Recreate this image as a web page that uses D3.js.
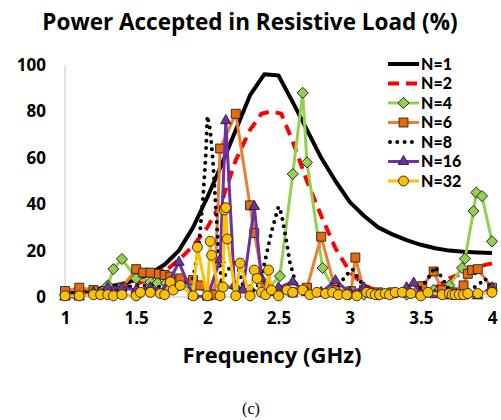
<!DOCTYPE html>
<html>
<head>
<meta charset="utf-8">
<script src="https://cdn.jsdelivr.net/npm/d3@7"></script>
<style>
    body { margin: 0; background: #fff; }
    text { font-family: "Open Sans", Lato, sans-serif; font-weight: bold; fill: #000; }
</style>
</head>
<body>
<div id="chart"></div>
<script>
// frequency (GHz), power accepted (%)
var n1 = [[1.0,1.5],[1.1,2],[1.2,3],[1.3,4.5],[1.4,5.5],[1.5,7.5],[1.6,10],[1.7,14],[1.8,20],[1.9,30],[2.0,43],[2.1,57],[2.2,72],[2.3,87],[2.4,96],[2.5,95.5],[2.6,84],[2.7,72],[2.8,60],[2.9,50],[3.0,41],[3.1,35],[3.2,30],[3.3,27],[3.4,24.5],[3.5,22.5],[3.6,21],[3.7,20],[3.8,19.5],[3.9,19.2],[4.0,19]];
var n2 = [[1.0,1],[1.1,1.5],[1.2,2],[1.3,3],[1.4,4],[1.5,5.5],[1.6,8],[1.7,11],[1.8,16],[1.9,22],[2.0,30],[2.1,41],[2.2,59],[2.3,72],[2.38,79],[2.45,80],[2.52,79],[2.6,67],[2.7,50],[2.8,35],[2.9,21],[3.0,11],[3.1,5],[3.2,2.5],[3.3,1.5],[3.4,1.5],[3.5,2],[3.6,4],[3.7,8],[3.8,10.5],[3.9,13],[4.0,14.5]];
var n4 = [[1.0,1],[1.1,1],[1.2,1.5],[1.3,5],[1.34,12],[1.4,16.4],[1.5,8],[1.6,6.5],[1.65,6],[1.71,6],[1.8,5],[1.9,4],[2.0,3],[2.1,5],[2.2,4],[2.3,3],[2.4,2],[2.51,9],[2.6,53],[2.67,88],[2.7,58],[2.81,12.5],[2.9,2],[3.0,1],[3.1,1],[3.2,1],[3.3,1.5],[3.4,1],[3.5,1],[3.59,3],[3.7,5],[3.79,12.5],[3.81,16.5],[3.87,37],[3.89,45],[3.93,43.5],[4.0,24]];
var n6 = [[1.0,2.6],[1.1,4],[1.2,3],[1.3,2],[1.4,4],[1.5,12],[1.55,10.5],[1.6,10.5],[1.66,10],[1.7,9.5],[1.74,8.8],[1.81,8],[1.9,7.3],[1.95,5],[2.05,1],[2.09,64],[2.2,79],[2.3,39.5],[2.33,27.6],[2.4,4],[2.5,2],[2.6,2],[2.7,4],[2.8,26],[2.9,3],[3.01,2.5],[3.04,17],[3.1,3],[3.2,2],[3.3,2],[3.4,2],[3.51,4.7],[3.59,11],[3.65,3],[3.72,2],[3.8,5],[3.83,10],[3.86,11.6],[3.9,12],[4.0,4]];
var n8 = [[1.0,1],[1.1,1.5],[1.2,2],[1.3,3],[1.4,4],[1.5,5],[1.6,5],[1.7,4],[1.8,4],[1.9,8],[1.94,22],[1.97,43],[1.99,62],[2.0,78],[2.02,72],[2.04,58],[2.06,38],[2.08,18],[2.1,7],[2.15,12],[2.2,16],[2.25,5],[2.3,2],[2.35,4],[2.4,14],[2.45,28],[2.5,39],[2.52,36],[2.55,26],[2.58,15],[2.62,6],[2.7,1],[2.8,1],[2.9,3],[2.97,9],[3.02,12],[3.07,7],[3.12,3],[3.2,1],[3.3,1],[3.4,1],[3.5,4],[3.55,8],[3.6,13],[3.64,9],[3.7,3],[3.8,2],[3.9,5],[3.95,8],[4.0,4]];
var n16 = [[1.0,0],[1.1,0],[1.2,2],[1.3,4],[1.4,4],[1.5,3],[1.6,4],[1.7,3],[1.8,15],[1.9,0.5],[2.0,0],[2.09,16],[2.13,76],[2.19,5],[2.25,3],[2.33,39],[2.38,8],[2.45,2],[2.5,4],[2.6,6.5],[2.7,2],[2.8,2],[2.9,7],[3.0,2],[3.1,4],[3.2,1],[3.3,1],[3.4,4],[3.45,6],[3.5,1],[3.6,1],[3.7,0.5],[3.8,0.5],[3.9,0.5],[4.0,4]];
var n32 = [[1.0,0.5],[1.1,0.5],[1.2,1],[1.25,1],[1.3,1],[1.34,0.5],[1.4,1],[1.5,0.5],[1.53,2],[1.6,2],[1.67,1.5],[1.7,1],[1.74,6.5],[1.76,3],[1.81,5],[1.9,0.5],[1.93,21.5],[2.0,0.5],[2.02,24],[2.03,18],[2.09,0.5],[2.11,4.3],[2.12,37.5],[2.13,38.5],[2.14,25],[2.2,0.5],[2.23,14.6],[2.3,0.5],[2.33,11.6],[2.35,8],[2.38,2],[2.41,1],[2.43,11.6],[2.45,3],[2.5,0.5],[2.56,3],[2.6,2],[2.67,3],[2.72,1],[2.77,2],[2.83,1.5],[2.88,2],[2.92,1],[2.98,1],[3.05,0.5],[3.12,2],[3.15,1.5],[3.18,1],[3.21,1],[3.25,1.5],[3.28,1],[3.32,2],[3.37,2],[3.43,1.5],[3.5,0.5],[3.55,2],[3.65,1],[3.7,1.5],[3.72,1],[3.74,1],[3.77,1],[3.8,1],[3.83,1.5],[3.9,1.5],[4.0,2]];

var seriesNames = ["N=1", "N=2", "N=4", "N=6", "N=8", "N=16", "N=32"];
var xTicks = [1, 1.5, 2, 2.5, 3, 3.5, 4];
var yTicks = [0, 20, 40, 60, 80, 100];

var chartTitle = "Power Accepted in Resistive Load (%)";
var xTitle = "Frequency (GHz)";
var caption = "(c)";

(function () {
    var vis = {};
    vis.width = 501;
    vis.height = 420;

    vis.svg = d3.select("#chart")
        .append("svg")
        .attr("width", vis.width)
        .attr("height", vis.height);

    vis.x = d3.scaleLinear().domain([1, 4]).range([65, 492]);
    vis.y = d3.scaleLinear().domain([0, 100]).range([297, 65]);

    // one style per series, same order as the legend
    var styles = [
        { data: n1, stroke: "#000", width: 4 },
        { data: n2, stroke: "#FF0000", width: 4, dash: "11,7" },
        { data: n4, stroke: "#92D050", width: 3, symbol: "diamond", fill: "#92D050" },
        { data: n6, stroke: "#ED7D31", width: 3, symbol: "square", fill: "#E46C0A" },
        { data: n8, stroke: "#000", width: 4, dash: "0,7.3", cap: "round" },
        { data: n16, stroke: "#7030A0", width: 3, symbol: "triangle", fill: "#7030A0" },
        { data: n32, stroke: "#FFC000", width: 3, symbol: "circle", fill: "#FFC000" }
    ];

    var symbolPath = function (name) {
        if (name === "diamond") return d3.symbol().type(d3.symbolSquare).size(62)();
        if (name === "square") return d3.symbol().type(d3.symbolSquare).size(80)();
        if (name === "triangle") return d3.symbol().type(d3.symbolTriangle).size(48)();
        return d3.symbol().type(d3.symbolCircle).size(78)();
    };
    var symbolRotate = function (name) {
        return name === "diamond" ? " rotate(45)" : "";
    };

    // axis lines
    vis.svg.append("line")
        .attr("x1", vis.x(1)).attr("x2", vis.x(1))
        .attr("y1", vis.y(100)).attr("y2", vis.y(0))
        .attr("stroke", "#D9D9D9").attr("stroke-width", 1.5);
    vis.svg.append("line")
        .attr("x1", vis.x(1)).attr("x2", vis.x(4))
        .attr("y1", vis.y(0)).attr("y2", vis.y(0))
        .attr("stroke", "#D9D9D9").attr("stroke-width", 1.5);

    var yAxis = d3.axisLeft(vis.y).tickValues(yTicks).tickSize(0).tickPadding(0);
    vis.svg.append("g")
        .attr("transform", "translate(46,0)")
        .call(yAxis)
        .call(g => g.select(".domain").remove())
        .selectAll("text")
        .attr("font-size", "17px")
        .attr("font-family", "'Open Sans', sans-serif")
        .attr("font-weight", "bold")
        .attr("fill", "#000");

    var xAxis = d3.axisBottom(vis.x).tickValues(xTicks).tickSize(0).tickPadding(0)
        .tickFormat(d3.format("~g"));
    vis.svg.append("g")
        .attr("transform", "translate(0,312)")
        .call(xAxis)
        .call(g => g.select(".domain").remove())
        .selectAll("text")
        .attr("font-size", "17px")
        .attr("font-family", "'Open Sans', sans-serif")
        .attr("font-weight", "bold")
        .attr("fill", "#000");

    var line = d3.line()
        .x(d => vis.x(d[0]))
        .y(d => vis.y(d[1]));

    styles.forEach(function (s) {
        vis.svg.append("path")
            .datum(s.data)
            .attr("fill", "none")
            .attr("stroke", s.stroke)
            .attr("stroke-width", s.width)
            .attr("stroke-dasharray", s.dash || null)
            .attr("stroke-linecap", s.cap || "butt")
            .attr("stroke-linejoin", "round")
            .attr("d", line);

        if (s.symbol) {
            vis.svg.append("g").selectAll("path")
                .data(s.data)
                .enter().append("path")
                .attr("d", symbolPath(s.symbol))
                .attr("transform", d => "translate(" + vis.x(d[0]) + "," + vis.y(d[1]) + ")" + symbolRotate(s.symbol))
                .attr("fill", s.fill)
                .attr("stroke", "#222")
                .attr("stroke-width", 0.9);
        }
    });

    // legend
    var legend = vis.svg.append("g")
        .attr("transform", "translate(388,64)");
    var rows = legend.selectAll("g.legendRow")
        .data(styles)
        .enter().append("g")
        .attr("class", "legendRow")
        .attr("transform", (d, i) => "translate(0," + (i * 19.5) + ")");
    rows.append("rect")
        .attr("x", -2).attr("y", -8).attr("width", 36).attr("height", 16)
        .attr("fill", "#fff");
    rows.append("line")
        .attr("x1", d => d.cap ? 2 : 0).attr("x2", 31)
        .attr("stroke", d => d.stroke)
        .attr("stroke-width", d => d.width)
        .attr("stroke-dasharray", d => d.dash || null)
        .attr("stroke-linecap", d => d.cap || "butt");
    rows.filter(d => d.symbol).append("path")
        .attr("d", d => symbolPath(d.symbol))
        .attr("transform", d => "translate(15.5,0)" + symbolRotate(d.symbol))
        .attr("fill", d => d.fill)
        .attr("stroke", "#222")
        .attr("stroke-width", 0.9);
    rows.append("text")
        .attr("x", 33)
        .attr("y", 5.5)
        .attr("font-size", "16px")
        .style("font-family", "Lato, sans-serif")
        .style("font-weight", 900)
        .text((d, i) => seriesNames[i]);

    // titles
    vis.svg.append("text")
        .attr("x", 250)
        .attr("y", 30)
        .attr("text-anchor", "middle")
        .attr("font-size", "22.5px")
        .text(chartTitle);
    vis.svg.append("text")
        .attr("x", 272)
        .attr("y", 363)
        .attr("text-anchor", "middle")
        .attr("font-size", "22px")
        .text(xTitle);
    vis.svg.append("text")
        .attr("x", 251)
        .attr("y", 414)
        .attr("text-anchor", "middle")
        .attr("font-size", "16px")
        .style("font-family", "'Liberation Serif', serif")
        .style("font-weight", "normal")
        .text(caption);
}());
</script>
</body>
</html>
